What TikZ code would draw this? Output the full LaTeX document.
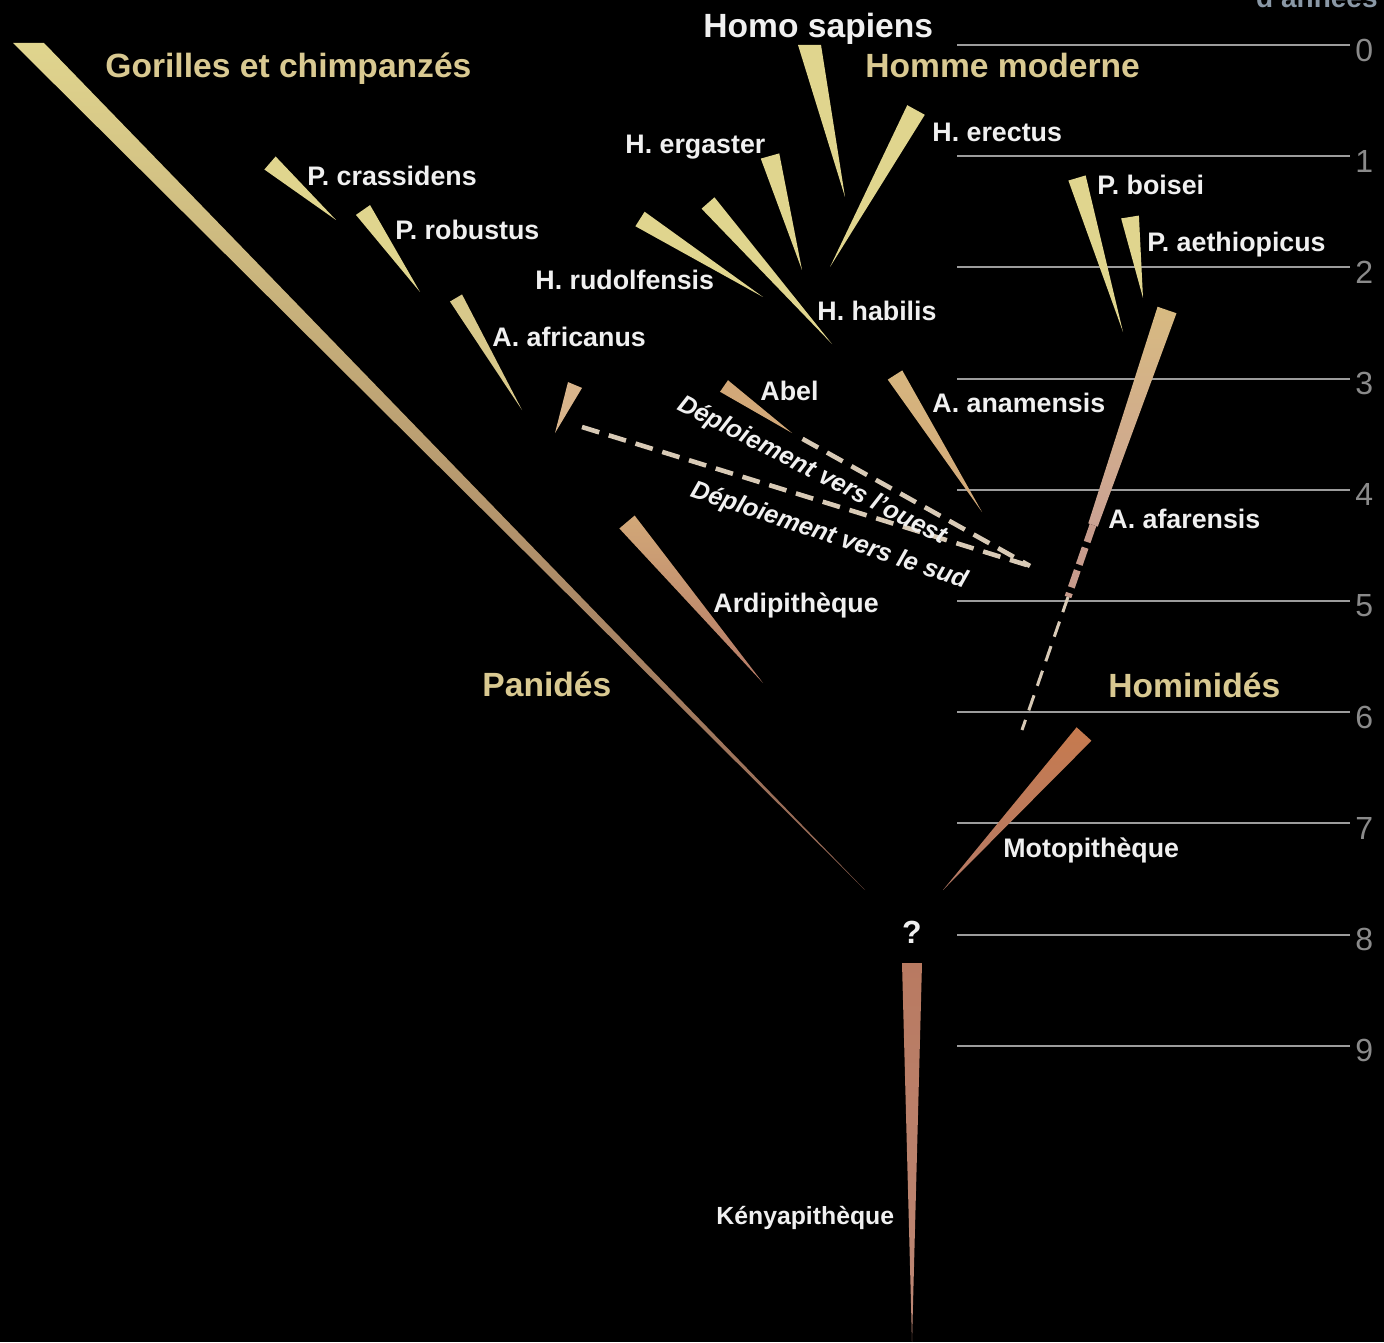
\documentclass[tikz,border=0pt]{standalone}
\usepackage{xcolor}
\usepackage{fontspec}
\setmainfont{Liberation Sans}
\usepackage{tikz}
\usetikzlibrary{calc}

\definecolor{beige}{HTML}{D9C991}
\definecolor{labelwhite}{HTML}{F0F0F0}
\definecolor{scalegray}{HTML}{9C9C9C}
\definecolor{agegray}{HTML}{8A8A8A}
\definecolor{unitblue}{HTML}{8A98A6}
\definecolor{yellowbranch}{HTML}{E0D58E}
\definecolor{paleyellow}{HTML}{D8C88A}
\definecolor{tanbranch}{HTML}{D2A878}
\definecolor{pinkbranch}{HTML}{B57A66}
\definecolor{orangebranch}{HTML}{C67A4E}
\definecolor{dashlight}{HTML}{D8CAB6}

% tapered branch: options, wide end, narrow end, half widths
\newcommand{\branch}[5]{%
  \path[#1] ($(#2)!#4!90:(#3)$) -- ($(#3)!#5!-90:(#2)$)
    -- ($(#3)!#5!90:(#2)$) -- ($(#2)!#4!-90:(#3)$) -- cycle;}

\begin{document}
\begin{tikzpicture}[
    x=0.5pt, y=-0.5pt,
    heading/.style={
        anchor=base west,
        inner sep=0pt,
        text=beige,
        font=\fontsize{16.8}{18}\selectfont\bfseries
    },
    taxon/.style={
        anchor=base west,
        inner sep=0pt,
        text=labelwhite,
        font=\fontsize{13.4}{15}\selectfont\bfseries
    },
    genus/.style={
        taxon,
        font=\fontsize{12.4}{14}\selectfont\bfseries
    },
    route/.style={
        text=labelwhite,
        inner sep=0pt,
        font=\fontsize{12.6}{14}\selectfont\bfseries\itshape
    },
    age/.style={
        text=agegray,
        inner sep=2.5pt,
        font=\fontsize{16}{18}\selectfont
    },
    tick/.style={
        draw=scalegray,
        line width=1pt
    },
    spread/.style={
        draw=dashlight,
        line width=2.3pt,
        dash pattern=on 9pt off 5pt
    }
]

\useasboundingbox (0,0) rectangle (1384,1342);
\fill[black] (0,0) rectangle (1384,1342);

% time scale
\foreach \i in {0,...,9} {
    \coordinate (tick\i) at (957,{45+111.2*\i});
    \node[age, anchor=west] (age\i) at (1350,{50+111.2*\i}) {\i};
    \draw[tick] (tick\i) -- (tick\i -| age\i.west);
}
\node[text=unitblue, anchor=base east, inner sep=0pt,
    font=\fontsize{14}{16}\selectfont\bfseries] (unit) at (1378,8) {d'années};

% branch ends
\coordinate (gorilles-left) at (13,43);
\coordinate (gorilles-right) at (44,43);
\coordinate (gorilles-root) at (865,890);
\coordinate (crassidens) at (270,163);
\coordinate (crassidens-root) at (336,220);
\coordinate (robustus) at (363,210);
\coordinate (robustus-root) at (420,292);
\coordinate (africanus) at (456,298);
\coordinate (africanus-root) at (522,410);
\coordinate (austral) at (575,385);
\coordinate (austral-root) at (555,433);
\coordinate (austral-link) at (582,427);
\coordinate (abel) at (724,386);
\coordinate (abel-root) at (792,433);
\coordinate (anamensis) at (895,375);
\coordinate (anamensis-root) at (982,512);
\coordinate (ardi) at (627,522);
\coordinate (ardi-root) at (763,683);
\coordinate (rudolfensis) at (640,219);
\coordinate (rudolfensis-root) at (763,297);
\coordinate (habilis) at (708,203);
\coordinate (habilis-root) at (832,344);
\coordinate (ergaster) at (770,156);
\coordinate (ergaster-root) at (802,270);
\coordinate (sapiens-left) at (798,45);
\coordinate (sapiens-right) at (821,45);
\coordinate (sapiens-root) at (845,197);
\coordinate (erectus) at (916,110);
\coordinate (erectus-root) at (830,267);
\coordinate (boisei) at (1077,178);
\coordinate (boisei-root) at (1123,332);
\coordinate (aethiopicus) at (1130,217);
\coordinate (aethiopicus-root) at (1143,298);
\coordinate (afarensis) at (1167,310);
\coordinate (afarensis-solid) at (1093,525);
\coordinate (afarensis-mid) at (1068,597);
\coordinate (afarensis-root) at (1022,730);
\coordinate (moto) at (1084,734);
\coordinate (moto-root) at (943,890);
\coordinate (kenya) at (912,963);
\coordinate (kenya-root) at (912,1342);
\coordinate (split) at (1030,566);

% branches
\path[top color=yellowbranch, bottom color=pinkbranch!80!black]
    (gorilles-left) -- (gorilles-right) -- (gorilles-root) -- cycle;
\path[fill=yellowbranch] (sapiens-left) -- (sapiens-right) -- (sapiens-root) -- cycle;
\branch{fill=yellowbranch}{crassidens}{crassidens-root}{4.3pt}{0pt}
\branch{fill=yellowbranch}{robustus}{robustus-root}{4.3pt}{0pt}
\branch{fill=paleyellow}{africanus}{africanus-root}{3.5pt}{0pt}
\branch{fill=tanbranch!85!white}{austral}{austral-root}{3.8pt}{0pt}
\branch{fill=tanbranch}{abel}{abel-root}{3.5pt}{0pt}
\branch{top color=tanbranch!70!yellowbranch, bottom color=tanbranch}{anamensis}{anamensis-root}{4.3pt}{0pt}
\branch{top color=tanbranch, bottom color=pinkbranch}{ardi}{ardi-root}{5pt}{0pt}
\branch{fill=yellowbranch}{rudolfensis}{rudolfensis-root}{4.3pt}{0pt}
\branch{fill=yellowbranch}{habilis}{habilis-root}{4.3pt}{0pt}
\branch{fill=yellowbranch}{ergaster}{ergaster-root}{4.8pt}{0pt}
\branch{fill=yellowbranch}{erectus}{erectus-root}{5pt}{0pt}
\branch{fill=yellowbranch}{boisei}{boisei-root}{4.5pt}{0pt}
\branch{fill=yellowbranch}{aethiopicus}{aethiopicus-root}{4.5pt}{0pt}
\branch{top color=tanbranch!60!yellowbranch, bottom color=pinkbranch!70!white}{afarensis}{afarensis-solid}{5pt}{2.5pt}
\branch{top color=orangebranch, bottom color=pinkbranch}{moto}{moto-root}{5pt}{0pt}
\branch{top color=pinkbranch!80!orangebranch, bottom color=pinkbranch!90!white}{kenya}{kenya-root}{5pt}{0pt}

% uncertain stem and spreads
\draw[draw=pinkbranch!75!white, line width=3.5pt, dash pattern=on 9pt off 3pt]
    (afarensis-solid) -- (afarensis-mid);
\draw[draw=dashlight, line width=1.5pt, dash pattern=on 8pt off 5pt]
    (afarensis-mid) -- (afarensis-root);
\draw[spread] (austral-link) -- (split);
\draw[spread, shorten <=6pt] (abel-root) -- (split);

% labels
\node[heading] (gorillelabel) at (105,78) {Gorilles et chimpanzés};
\node[heading, text=labelwhite] (sapienslabel) at (703,38) {Homo sapiens};
\node[heading] (modernelabel) at (865,78) {Homme moderne};
\node[heading] (panideslabel) at (482,696) {Panidés};
\node[heading] (hominideslabel) at (1108,697) {Hominidés};

\node[taxon] (erectuslabel) at (932,142) {H. erectus};
\node[taxon] (ergasterlabel) at (625,154) {H. ergaster};
\node[taxon] (crassidenslabel) at (307,186) {P. crassidens};
\node[taxon] (robustuslabel) at (395,240) {P. robustus};
\node[taxon] (boiseilabel) at (1097,195) {P. boisei};
\node[taxon] (aethiopicuslabel) at (1147,252) {P. aethiopicus};
\node[taxon] (rudolfensislabel) at (535,290) {H. rudolfensis};
\node[taxon] (habilislabel) at (817,321) {H. habilis};
\node[taxon] (africanuslabel) at (492,346) {A. africanus};
\node[taxon] (abellabel) at (760,400) {Abel};
\node[taxon] (anamensislabel) at (932,412) {A. anamensis};
\node[taxon] (afarensislabel) at (1108,528) {A. afarensis};
\node[taxon] (ardilabel) at (713,612) {Ardipithèque};
\node[taxon] (motolabel) at (1003,857) {Motopithèque};

\node[genus] (kenyalabel) at (716,1224) {Kényapithèque};
\node[text=labelwhite, font=\fontsize{16}{18}\selectfont\bfseries] (unknown) at (912,932) {?};

\node[route, rotate=-27] (ouestlabel) at (812,471) {Déploiement vers l'ouest};
\node[route, rotate=-18.5] (sudlabel) at (829,536) {Déploiement vers le sud};

\end{tikzpicture}
\end{document}
